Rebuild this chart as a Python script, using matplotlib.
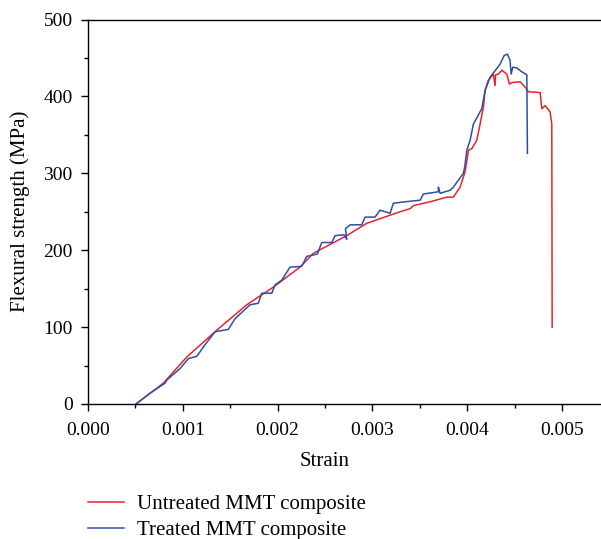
import matplotlib
matplotlib.use('agg')
import matplotlib.pyplot as plt
from matplotlib.ticker import MultipleLocator, FormatStrFormatter

# Untreated MMT composite (red)
untreated_strain = [0.000506, 0.000794, 0.001041, 0.001358, 0.001674, 0.001955, 0.002236,
                    0.002377, 0.002729, 0.00294, 0.00308, 0.003291, 0.003397, 0.003432,
                    0.003608, 0.003784, 0.003853, 0.003924, 0.003977, 0.004012, 0.004047,
                    0.0041, 0.004135, 0.00417, 0.004188, 0.004222, 0.004275, 0.004293,
                    0.004298, 0.004328, 0.004364, 0.004417, 0.004444, 0.004469, 0.004557,
                    0.00461, 0.004645, 0.004768, 0.004786, 0.004821, 0.004873, 0.004891,
                    0.004895]
untreated_stress = [0, 27, 61, 96, 129, 152, 178,
                    196, 219, 235, 241, 250, 254, 258,
                    263, 269, 269, 282, 302, 330, 332,
                    343, 364, 386, 408, 421, 429, 414,
                    428, 429, 434, 429, 416, 418, 419,
                    412, 406, 405, 384, 388, 380, 364,
                    100]

# Treated MMT composite (blue)
treated_strain = [0.000506, 0.000654, 0.000812, 0.00083, 0.00097, 0.001058, 0.001147,
                  0.001234, 0.00134, 0.00148, 0.001551, 0.001709, 0.001796, 0.001832,
                  0.001938, 0.001973, 0.002043, 0.002131, 0.002254, 0.002307, 0.002419,
                  0.002465, 0.002571, 0.002606, 0.0027, 0.002729, 0.002715, 0.002764,
                  0.002887, 0.002922, 0.003027, 0.00308, 0.003186, 0.00322, 0.003344,
                  0.003502, 0.003537, 0.003695, 0.003695, 0.003713, 0.003819, 0.003853,
                  0.003959, 0.003975, 0.003995, 0.00403, 0.004064, 0.004153, 0.004188,
                  0.004241, 0.004346, 0.004388, 0.004423, 0.004451, 0.004462, 0.00448,
                  0.004522, 0.004575, 0.004628, 0.004634]
treated_stress = [0, 14, 27, 31, 46, 59, 62,
                  77, 94, 97, 111, 129, 131, 144,
                  144, 155, 161, 178, 179, 192, 195,
                  210, 210, 219, 220, 214, 228, 233,
                  233, 243, 243, 252, 248, 261, 263,
                  265, 273, 276, 282, 274, 278, 282,
                  300, 310, 330, 343, 364, 384, 408,
                  425, 442, 453, 455, 447, 429, 438,
                  437, 432, 428, 326]

plt.rcParams['font.family'] = ['Liberation Serif', 'DejaVu Serif']

fig = plt.figure(figsize=(6.01, 5.39), dpi=100)
ax = fig.add_axes([88 / 601, 1 - 404 / 539, 1 - 88 / 601, (404 - 19.5) / 539])

ax.plot(untreated_strain, untreated_stress, color='#e8232b', linewidth=1.1,
        label='Untreated MMT composite')
ax.plot(treated_strain, treated_stress, color='#2d4fa3', linewidth=1.1,
        label='Treated MMT composite')

ax.set_xlim(0, 0.00541)
ax.set_ylim(0, 500)
ax.xaxis.set_major_locator(MultipleLocator(0.001))
ax.xaxis.set_minor_locator(MultipleLocator(0.0005))
ax.xaxis.set_major_formatter(FormatStrFormatter('%.3f'))
ax.yaxis.set_major_locator(MultipleLocator(100))
ax.yaxis.set_minor_locator(MultipleLocator(50))

ax.spines['right'].set_visible(False)
for s in ['left', 'bottom', 'top']:
    ax.spines[s].set_linewidth(1.0)
ax.tick_params(which='major', direction='out', length=5, width=1.0, labelsize=14)
ax.tick_params(which='minor', direction='out', length=3, width=1.0)
ax.tick_params(axis='x', which='major', pad=8)
ax.tick_params(axis='y', which='major', pad=6)
ax.tick_params(top=False, right=False, which='both')

ax.set_xlabel('Strain', fontsize=15)
ax.xaxis.set_label_coords((325 - 88) / (601 - 88), -0.124)
ax.set_ylabel('Flexural strength (MPa)', fontsize=15)
ax.yaxis.set_label_coords(-0.114, 0.5)

fig.legend(loc='upper left', bbox_to_anchor=(80 / 601, 1 - 486 / 539), frameon=False,
           fontsize=15, handlelength=1.7, handletextpad=0.65, labelspacing=0.31,
           borderaxespad=0)

fig.savefig('out.png', dpi=100)
